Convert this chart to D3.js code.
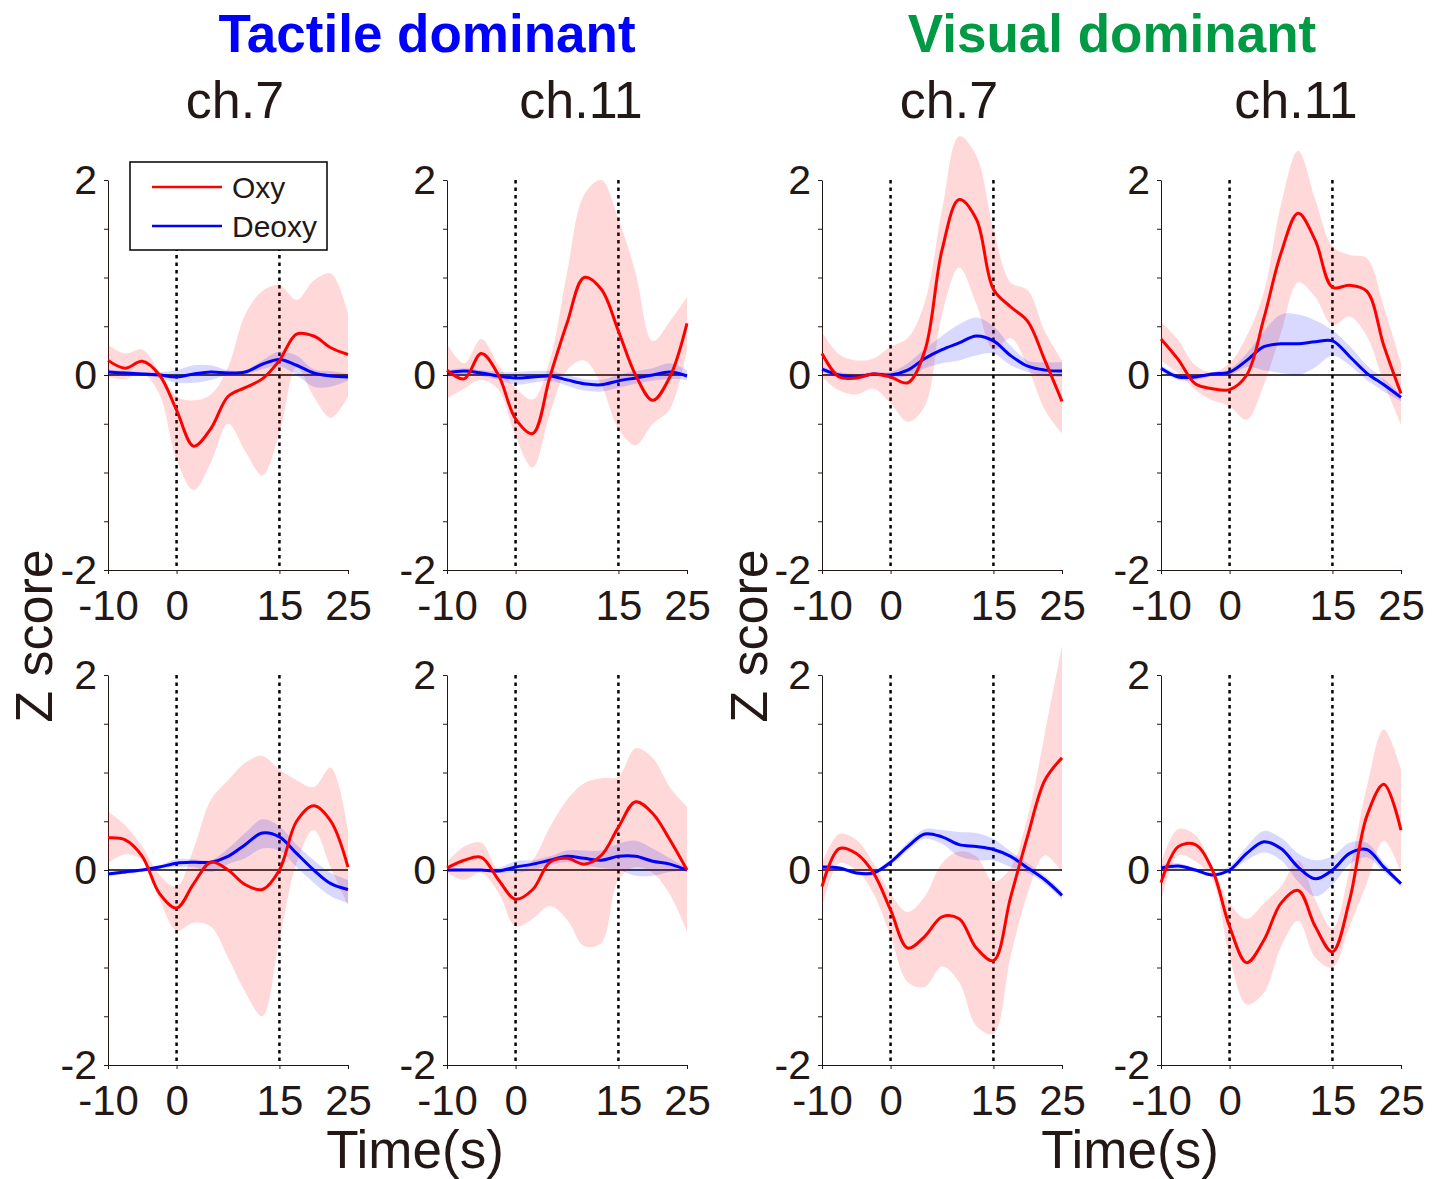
<!DOCTYPE html>
<html>
<head>
<meta charset="utf-8">
<script src="https://cdn.jsdelivr.net/npm/d3@7"></script>
<style>
  body { margin: 0; background: #fff; }
  text { font-family: "Liberation Sans", Arial, sans-serif; fill: #231815; }
</style>
</head>
<body>
<div id="chart"></div>
<script>
// time grid (s)
var timeS = [-10, -7.5, -5, -2.5, 0, 2.5, 5, 7.5, 10, 12.5, 15, 17.5, 20, 22.5, 25];
var xTicks = [-10, 0, 15, 25];
var yTicks = [-2, -1.5, -1, -0.5, 0, 0.5, 1, 1.5, 2];
var yLabels = [-2, 0, 2];
var groupTitles = ["Tactile dominant", "Visual dominant"];
var channelTitles = ["ch.7", "ch.11", "ch.7", "ch.11"];

// Tactile dominant, ch.7, upper row
var tac7aOxy     = [0.15, 0.07, 0.14, 0.0, -0.36, -0.73, -0.55, -0.22, -0.13, -0.04, 0.15, 0.42, 0.40, 0.28, 0.21];
var tac7aOxyHi   = [0.31, 0.22, 0.26, 0.04, -0.22, -0.26, -0.2, 0.08, 0.62, 0.86, 0.92, 0.77, 0.97, 1.04, 0.63];
var tac7aOxyLo   = [-0.02, -0.04, 0.02, -0.2, -0.87, -1.18, -0.9, -0.5, -0.78, -1.03, -0.6, 0.08, -0.22, -0.44, -0.22];
var tac7aDeoxy   = [0.03, 0.02, 0.01, 0.0, -0.02, 0.01, 0.03, 0.02, 0.03, 0.11, 0.16, 0.1, 0.02, -0.01, -0.02];
var tac7aDeoxyHi = [0.06, 0.04, 0.03, 0.03, 0.05, 0.1, 0.1, 0.05, 0.05, 0.15, 0.24, 0.2, 0.06, 0.04, 0.01];
var tac7aDeoxyLo = [0.0, 0.0, -0.01, -0.03, -0.08, -0.08, -0.05, 0.0, 0.01, 0.06, 0.09, 0.0, -0.12, -0.12, -0.06];

// Tactile dominant, ch.11, upper row
var tac11aOxy     = [0.05, -0.04, 0.22, 0.0, -0.45, -0.6, -0.02, 0.53, 1.0, 0.88, 0.45, 0.0, -0.26, -0.02, 0.53];
var tac11aOxyHi   = [0.32, 0.12, 0.37, 0.1, -0.13, -0.25, 0.15, 1.05, 1.85, 2.0, 1.6, 1.05, 0.35, 0.55, 0.8];
var tac11aOxyLo   = [-0.24, -0.14, -0.05, -0.15, -0.63, -0.95, -0.4, 0.05, 0.15, -0.1, -0.55, -0.72, -0.5, -0.35, 0.26];
var tac11aDeoxy   = [0.02, 0.04, 0.02, -0.01, -0.03, -0.02, -0.01, -0.05, -0.09, -0.1, -0.06, -0.03, 0.0, 0.03, -0.01];
var tac11aDeoxyHi = [0.05, 0.07, 0.05, 0.03, 0.03, 0.04, 0.04, 0.0, -0.04, -0.05, 0.0, 0.04, 0.07, 0.12, 0.05];
var tac11aDeoxyLo = [-0.01, 0.01, -0.01, -0.05, -0.1, -0.08, -0.06, -0.11, -0.16, -0.17, -0.13, -0.09, -0.06, -0.04, -0.05];

// Visual dominant, ch.7, upper row
var vis7aOxy     = [0.22, -0.02, -0.03, 0.01, -0.02, -0.08, 0.25, 1.28, 1.8, 1.6, 0.88, 0.7, 0.55, 0.15, -0.27];
var vis7aOxyHi   = [0.44, 0.21, 0.15, 0.17, 0.29, 0.38, 0.75, 1.69, 2.45, 2.25, 1.5, 0.95, 0.87, 0.45, 0.15];
var vis7aOxyLo   = [-0.02, -0.16, -0.2, -0.14, -0.29, -0.48, -0.32, 0.62, 1.1, 0.73, 0.26, 0.38, 0.08, -0.36, -0.6];
var vis7aDeoxy   = [0.06, 0.0, -0.02, 0.01, 0.0, 0.05, 0.17, 0.26, 0.33, 0.4, 0.35, 0.2, 0.09, 0.05, 0.04];
var vis7aDeoxyHi = [0.09, 0.03, 0.01, 0.03, 0.03, 0.12, 0.27, 0.4, 0.52, 0.59, 0.5, 0.3, 0.15, 0.13, 0.13];
var vis7aDeoxyLo = [0.03, -0.03, -0.05, -0.01, -0.03, -0.01, 0.07, 0.12, 0.15, 0.2, 0.22, 0.1, 0.03, -0.01, -0.02];

// Visual dominant, ch.11, upper row
var vis11aOxy     = [0.37, 0.16, -0.09, -0.14, -0.15, 0.0, 0.58, 1.25, 1.66, 1.38, 0.9, 0.92, 0.86, 0.3, -0.19];
var vis11aOxyHi   = [0.55, 0.36, 0.1, 0.03, 0.12, 0.4, 0.85, 1.75, 2.3, 1.8, 1.32, 1.23, 1.2, 0.7, 0.12];
var vis11aOxyLo   = [0.15, 0.02, -0.15, -0.26, -0.32, -0.46, -0.1, 0.43, 0.95, 0.8, 0.51, 0.6, 0.4, -0.08, -0.51];
var vis11aDeoxy   = [0.07, -0.02, -0.02, 0.01, 0.03, 0.15, 0.29, 0.32, 0.32, 0.34, 0.35, 0.19, 0.02, -0.1, -0.23];
var vis11aDeoxyHi = [0.1, 0.01, 0.0, 0.03, 0.06, 0.22, 0.45, 0.62, 0.62, 0.56, 0.46, 0.3, 0.1, -0.04, -0.2];
var vis11aDeoxyLo = [0.04, -0.05, -0.05, -0.01, 0.0, 0.08, 0.05, 0.02, 0.0, 0.08, 0.2, 0.1, -0.05, -0.17, -0.27];

// Tactile dominant, ch.7, lower row
var tac7bOxy     = [0.33, 0.31, 0.14, -0.24, -0.39, -0.14, 0.08, 0.0, -0.15, -0.2, 0.0, 0.5, 0.66, 0.5, 0.03];
var tac7bOxyHi   = [0.6, 0.46, 0.24, -0.05, -0.17, 0.22, 0.72, 0.92, 1.1, 1.17, 1.03, 0.92, 0.85, 1.05, 0.41];
var tac7bOxyLo   = [0.07, 0.16, 0.1, -0.3, -0.62, -0.54, -0.58, -0.9, -1.25, -1.5, -0.72, 0.07, 0.41, 0.02, -0.36];
var tac7bDeoxy   = [-0.04, -0.02, 0.0, 0.03, 0.07, 0.08, 0.08, 0.14, 0.26, 0.38, 0.34, 0.17, 0.0, -0.14, -0.2];
var tac7bDeoxyHi = [-0.02, 0.0, 0.01, 0.05, 0.11, 0.11, 0.1, 0.22, 0.38, 0.52, 0.45, 0.26, 0.1, -0.03, -0.1];
var tac7bDeoxyLo = [-0.06, -0.04, -0.02, 0.01, 0.03, 0.03, -0.02, 0.06, 0.12, 0.22, 0.2, 0.03, -0.13, -0.27, -0.34];

// Tactile dominant, ch.11, lower row
var tac11bOxy     = [0.02, 0.1, 0.13, -0.1, -0.3, -0.2, 0.08, 0.12, 0.06, 0.15, 0.44, 0.7, 0.58, 0.31, 0.0];
var tac11bOxyHi   = [0.08, 0.24, 0.28, 0.0, -0.03, 0.1, 0.44, 0.72, 0.89, 0.94, 0.96, 1.25, 1.15, 0.85, 0.65];
var tac11bOxyLo   = [-0.03, -0.1, -0.03, -0.23, -0.58, -0.5, -0.37, -0.51, -0.78, -0.75, -0.1, 0.03, -0.03, -0.25, -0.63];
var tac11bDeoxy   = [0.0, 0.0, 0.0, -0.01, 0.03, 0.06, 0.1, 0.14, 0.12, 0.1, 0.14, 0.14, 0.09, 0.06, 0.0];
var tac11bDeoxyHi = [0.01, 0.01, 0.01, 0.02, 0.09, 0.1, 0.14, 0.2, 0.2, 0.2, 0.27, 0.3, 0.22, 0.12, 0.02];
var tac11bDeoxyLo = [-0.02, -0.01, -0.01, -0.03, -0.03, 0.0, 0.05, 0.08, 0.05, 0.02, 0.0, -0.06, -0.06, -0.02, -0.01];

// Visual dominant, ch.7, lower row
var vis7bOxy     = [-0.17, 0.22, 0.17, -0.03, -0.41, -0.8, -0.68, -0.48, -0.5, -0.8, -0.93, -0.28, 0.35, 0.92, 1.15];
var vis7bOxyHi   = [0.07, 0.37, 0.31, 0.07, -0.24, -0.43, -0.27, 0.07, 0.19, 0.14, -0.12, 0.02, 0.55, 1.4, 2.3];
var vis7bOxyLo   = [-0.39, 0.07, 0.0, -0.24, -0.68, -1.15, -1.2, -0.99, -1.15, -1.6, -1.68, -0.89, -0.24, 0.15, -0.03];
var vis7bDeoxy   = [0.03, 0.02, -0.03, -0.03, 0.08, 0.24, 0.37, 0.34, 0.26, 0.24, 0.21, 0.14, 0.02, -0.1, -0.26];
var vis7bDeoxyHi = [0.05, 0.04, -0.01, -0.01, 0.11, 0.28, 0.42, 0.41, 0.39, 0.38, 0.32, 0.19, 0.07, -0.06, -0.22];
var vis7bDeoxyLo = [0.01, 0.0, -0.05, -0.05, 0.05, 0.2, 0.32, 0.27, 0.14, 0.1, 0.1, 0.03, -0.03, -0.14, -0.3];

// Visual dominant, ch.11, lower row
var vis11bOxy     = [-0.13, 0.24, 0.26, 0.0, -0.58, -0.95, -0.72, -0.34, -0.21, -0.58, -0.84, -0.31, 0.55, 0.88, 0.41];
var vis11bOxyHi   = [0.07, 0.42, 0.36, 0.03, -0.34, -0.5, -0.34, -0.17, 0.1, -0.3, -0.6, 0.0, 0.85, 1.44, 1.03];
var vis11bOxyLo   = [-0.34, 0.15, 0.09, -0.1, -0.89, -1.38, -1.26, -0.79, -0.52, -0.9, -1.0, -0.58, -0.14, 0.3, -0.03];
var vis11bDeoxy   = [0.02, 0.04, 0.0, -0.05, 0.0, 0.17, 0.29, 0.22, 0.03, -0.09, 0.0, 0.17, 0.21, 0.03, -0.14];
var vis11bDeoxyHi = [0.05, 0.07, 0.02, -0.03, 0.04, 0.24, 0.4, 0.33, 0.17, 0.1, 0.14, 0.28, 0.28, 0.08, -0.12];
var vis11bDeoxyLo = [-0.01, 0.01, -0.02, -0.07, -0.02, 0.1, 0.18, 0.1, -0.12, -0.27, -0.15, 0.06, 0.13, -0.02, -0.17];

var panels = [
    { col: 0, row: 0, oxy: tac7aOxy, oxyHi: tac7aOxyHi, oxyLo: tac7aOxyLo, deoxy: tac7aDeoxy, deoxyHi: tac7aDeoxyHi, deoxyLo: tac7aDeoxyLo },
    { col: 1, row: 0, oxy: tac11aOxy, oxyHi: tac11aOxyHi, oxyLo: tac11aOxyLo, deoxy: tac11aDeoxy, deoxyHi: tac11aDeoxyHi, deoxyLo: tac11aDeoxyLo },
    { col: 2, row: 0, oxy: vis7aOxy, oxyHi: vis7aOxyHi, oxyLo: vis7aOxyLo, deoxy: vis7aDeoxy, deoxyHi: vis7aDeoxyHi, deoxyLo: vis7aDeoxyLo },
    { col: 3, row: 0, oxy: vis11aOxy, oxyHi: vis11aOxyHi, oxyLo: vis11aOxyLo, deoxy: vis11aDeoxy, deoxyHi: vis11aDeoxyHi, deoxyLo: vis11aDeoxyLo },
    { col: 0, row: 1, oxy: tac7bOxy, oxyHi: tac7bOxyHi, oxyLo: tac7bOxyLo, deoxy: tac7bDeoxy, deoxyHi: tac7bDeoxyHi, deoxyLo: tac7bDeoxyLo },
    { col: 1, row: 1, oxy: tac11bOxy, oxyHi: tac11bOxyHi, oxyLo: tac11bOxyLo, deoxy: tac11bDeoxy, deoxyHi: tac11bDeoxyHi, deoxyLo: tac11bDeoxyLo },
    { col: 2, row: 1, oxy: vis7bOxy, oxyHi: vis7bOxyHi, oxyLo: vis7bOxyLo, deoxy: vis7bDeoxy, deoxyHi: vis7bDeoxyHi, deoxyLo: vis7bDeoxyLo },
    { col: 3, row: 1, oxy: vis11bOxy, oxyHi: vis11bOxyHi, oxyLo: vis11bOxyLo, deoxy: vis11bDeoxy, deoxyHi: vis11bDeoxyHi, deoxyLo: vis11bDeoxyLo }
];

var width = 1446, height = 1179;
var colLeft = [108, 447, 822, 1161],
    rowTop = [180, 675],
    panelW = 240,
    panelH = 390;
var ink = "#231815";

var svg = d3.select("#chart")
    .append("svg")
    .attr("width", width)
    .attr("height", height);

function drawPanel(p) {
    var x = d3.scaleLinear().domain([-10, 25]).range([colLeft[p.col], colLeft[p.col] + panelW]);
    var y = d3.scaleLinear().domain([-2, 2]).range([rowTop[p.row] + panelH, rowTop[p.row]]);
    var g = svg.append("g");

    // axes
    g.append("g")
        .attr("transform", "translate(" + x(-10) + ",0)")
        .call(d3.axisLeft(y).tickValues(yTicks).tickSize(4).tickSizeOuter(0).tickPadding(7)
            .tickFormat(function (d) { return yLabels.indexOf(d) >= 0 ? String(d) : ""; }))
        .call(function (a) {
            a.selectAll("path, line").attr("stroke", ink);
            a.selectAll("text").style("font-size", "41px").attr("fill", ink);
        });

    g.append("g")
        .attr("transform", "translate(0," + y(-2) + ")")
        .call(d3.axisBottom(x).tickValues(xTicks).tickSize(4).tickSizeOuter(0).tickPadding(16)
            .tickFormat(function (d) { return String(d); }))
        .call(function (a) {
            a.selectAll("path, line").attr("stroke", ink);
            a.selectAll("text").style("font-size", "42px").attr("fill", ink);
        });

    // zero line
    g.append("line")
        .attr("x1", x(-10)).attr("x2", x(25))
        .attr("y1", y(0)).attr("y2", y(0))
        .attr("stroke", "#000")
        .attr("stroke-width", 1.5);

    // stimulus onset / offset
    [0, 15].forEach(function (t) {
        g.append("line")
            .attr("x1", x(t)).attr("x2", x(t))
            .attr("y1", y(2)).attr("y2", y(-2))
            .attr("stroke", "#000")
            .attr("stroke-width", 2.5)
            .attr("stroke-dasharray", "3.5,4");
    });

    var rows = timeS.map(function (t, i) {
        return { t: t, oxy: p.oxy[i], oxyHi: p.oxyHi[i], oxyLo: p.oxyLo[i],
                 deoxy: p.deoxy[i], deoxyHi: p.deoxyHi[i], deoxyLo: p.deoxyLo[i] };
    });

    var band = function (hi, lo) {
        return d3.area()
            .x(function (d) { return x(d.t); })
            .y0(function (d) { return y(d[lo]); })
            .y1(function (d) { return y(d[hi]); })
            .curve(d3.curveCatmullRom.alpha(0.5));
    };
    var mean = function (key) {
        return d3.line()
            .x(function (d) { return x(d.t); })
            .y(function (d) { return y(d[key]); })
            .curve(d3.curveCatmullRom.alpha(0.5));
    };

    g.append("path").datum(rows)
        .attr("fill", "rgba(255,0,0,0.15)")
        .attr("d", band("oxyHi", "oxyLo"));
    g.append("path").datum(rows)
        .attr("fill", "rgba(0,0,255,0.15)")
        .attr("d", band("deoxyHi", "deoxyLo"));

    g.append("path").datum(rows)
        .attr("fill", "none")
        .attr("stroke", "#0000ff")
        .attr("stroke-width", 3)
        .attr("d", mean("deoxy"));
    g.append("path").datum(rows)
        .attr("fill", "none")
        .attr("stroke", "#ff0000")
        .attr("stroke-width", 3)
        .attr("d", mean("oxy"));
}

panels.forEach(drawPanel);

// titles
svg.append("text")
    .attr("x", 427).attr("y", 52)
    .attr("text-anchor", "middle")
    .attr("font-weight", "bold")
    .style("font-size", "53px")
    .style("fill", "#0000ff")
    .text(groupTitles[0]);

svg.append("text")
    .attr("x", 1112).attr("y", 52)
    .attr("text-anchor", "middle")
    .attr("font-weight", "bold")
    .style("font-size", "53px")
    .style("fill", "#009944")
    .text(groupTitles[1]);

var chX = [235, 581, 949, 1296];
channelTitles.forEach(function (c, i) {
    svg.append("text")
        .attr("x", chX[i]).attr("y", 118)
        .attr("text-anchor", "middle")
        .style("font-size", "52px")
        .text(c);
});

// axis titles
[52, 767].forEach(function (xp) {
    svg.append("text")
        .attr("transform", "translate(" + xp + ",636) rotate(-90)")
        .attr("text-anchor", "middle")
        .style("font-size", "52px")
        .text("Z score");
});
[415, 1130].forEach(function (xp) {
    svg.append("text")
        .attr("x", xp).attr("y", 1168)
        .attr("text-anchor", "middle")
        .style("font-size", "53px")
        .text("Time(s)");
});

// legend
var legend = svg.append("g");
legend.append("rect")
    .attr("x", 130).attr("y", 162)
    .attr("width", 197).attr("height", 88)
    .attr("fill", "#fff")
    .attr("stroke", "#000")
    .attr("stroke-width", 1.5);
[["Oxy", "#ff0000", 187], ["Deoxy", "#0000ff", 226]].forEach(function (item) {
    legend.append("line")
        .attr("x1", 152).attr("x2", 222)
        .attr("y1", item[2]).attr("y2", item[2])
        .attr("stroke", item[1])
        .attr("stroke-width", 2.5);
    legend.append("text")
        .attr("x", 232).attr("y", item[2] + 11)
        .style("font-size", "30px")
        .text(item[0]);
});
</script>
</body>
</html>
